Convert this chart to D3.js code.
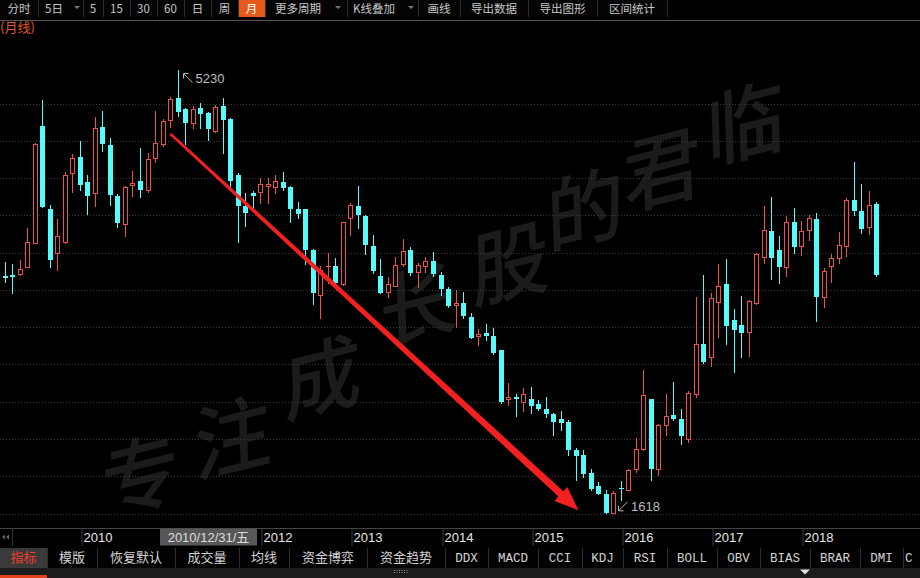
<!DOCTYPE html>
<html><head><meta charset="utf-8">
<script src="https://cdn.jsdelivr.net/npm/d3@7"></script>
<style>
html,body{margin:0;padding:0;background:#000;overflow:hidden}
svg{display:block}
</style></head><body>
<svg id="c" width="920" height="578"></svg>
<script>
// ---------------- DATA (monthly candles, first month 2009-03) ----------------
const firstMonth = "2009-03";
const opens = [3551,3559,3564,3626,3822,4773,4097,3736,3830,4388,
 4518,4317,4230,4768,4619,4205,3972,4292,4325,4252,
 4515,4627,4822,5004,4912,4795,4923,4882,4733,4937,
 4833,4374,4124,4225,4233,4287,4279,4314,4279,4097,
 4097,3762,3396,3621,3632,3483,4021,4121,4040,3795,
 3551,3423,3471,3648,3762,3581,3634,3673,3559,3445,
 3314,3328,3219,3061,3088,3061,2947,2548,2566,2526,
 2548,2507,2466,2425,2385,2363,2132,2097,1947,1838,
 1779,1624,1828,1811,1975,2138,2548,1975,2336,2417,
 2385,2227,2594,2996,2888,3341,3485,3197,3151,3096,
 3333,3703,3917,3762,3626,3993,3798,3926,4015,3382,
 3634,3695,3798,4170,4080,3948,4138];
const highs = [3665,3648,3681,3942,4635,4985,4129,4013,4401,4543,
 4651,4374,4844,4896,4673,4219,4284,4407,4592,4551,
 4898,4828,5007,5230,4923,4937,4963,4890,4945,5004,
 4841,4388,4225,4244,4347,4352,4374,4401,4284,4156,
 4100,3768,3632,3740,3695,3993,4143,4284,4048,3885,
 3687,3545,3708,3850,3789,3654,3703,3744,3586,3463,
 3436,3423,3246,3116,3159,3129,2950,2676,2586,2635,
 2648,2540,2566,2436,2450,2382,2154,2132,1975,1869,
 1811,1800,1879,1983,2235,2784,2550,2344,2594,2684,
 2464,2615,3379,3559,3414,3648,3687,3279,3387,3355,
 3736,4121,4192,3877,4040,4102,4001,4048,4067,3613,
 3727,3912,4189,4482,4301,4244,4151];
const lows = [3502,3412,3559,3624,3819,4111,3621,3599,3822,4238,
 4252,4056,4121,4572,4129,3952,3877,4203,4192,4238,
 4482,4610,4768,4855,4624,4755,4760,4659,4722,4556,
 4279,3830,3961,4102,4143,4143,4225,4252,3993,4021,
 3648,3322,3206,3496,3485,3477,3885,3944,3730,3573,
 3409,3377,3469,3632,3559,3463,3586,3551,3396,3295,
 3137,3206,3043,2988,3029,2920,2518,2499,2409,2450,
 2436,2458,2403,2254,2295,2097,1887,1914,1811,1773,
 1620,1618,1730,1806,1955,2132,1887,1928,2254,2382,
 2181,2200,2564,2839,2817,3051,2996,2770,2888,2898,
 3322,3659,3524,3496,3551,3736,3722,3844,3186,3300,
 3504,3654,3714,4048,3904,3893,3551];
const closes = [3534,3542,3605,3825,4624,4116,3681,3877,4374,4510,
 4292,4205,4755,4627,4211,3980,4279,4311,4252,4504,
 4632,4814,4994,4890,4795,4912,4869,4749,4928,4822,
 4328,4124,4067,4205,4301,4301,4325,4266,4097,4056,
 3762,3409,3599,3632,3496,3988,4129,4048,3803,3591,
 3414,3483,3640,3754,3577,3640,3673,3567,3442,3306,
 3333,3224,3047,3078,3064,2928,2526,2566,2548,2594,
 2493,2464,2425,2363,2354,2132,2085,1942,1820,1779,
 1623,1784,1814,1969,2138,2580,1975,2336,2409,2385,
 2248,2599,2996,2852,3369,3469,3145,3110,3088,3347,
 3730,3926,3695,3626,3988,3789,3917,4026,3382,3594,
 3700,3803,4170,4080,3934,4129,3559];
const cursorLabel = "2010/12/31/五";
const cursorIndex = 21;
// trend arrow: [candle index, price]
const arrowFrom = [22, 4708];
const arrowTo = [76.3, 1643];
const topItems = ["分时","5日","5","15","30","60","日","周","月","更多周期","K线叠加","画线","导出数据","导出图形","区间统计"];
const tabItems = ["指标","模版","恢复默认","成交量","均线","资金博弈","资金趋势","DDX","MACD","CCI","KDJ","RSI","BOLL","OBV","BIAS","BRAR","DMI","C"];
const watermark = ["专","注","成","长","股","的","君","临"];

// ---------------- LAYOUT ----------------
const W = 920, H = 578;
const RED = "#ea5349", CYAN = "#54fcfc";
const svg = d3.select("#c");
svg.append("rect").attr("width", W).attr("height", H).attr("fill", "#000");

const N = opens.length;
const months = d3.range(N).map(i => d3.timeMonth.offset(d3.timeParse("%Y-%m")(firstMonth), i));
const x = d3.scaleBand().domain(d3.range(N)).range([1.5, 880.5]);
const cx = i => x.range()[0] + x.step() * i + x.bandwidth() / 2;
const y = d3.scaleLinear().domain([d3.min(lows), d3.max(highs)]).range([513.3, 70]);

// ---------- top toolbar ----------
const topCells = [[0,38],[38,83],[83,103],[103,130],[130,157],[157,184],[184,211],[211,238],[238,265],[265,347],[347,418],[418,460],[460,528],[528,597],[597,667]];
const dropIdx = {1:[7,6],9:[10,9],10:[6,7]};
const tb = svg.append("g");
tb.append("rect").attr("x",0).attr("y",0).attr("width",667).attr("height",17).attr("fill","#050505");
topItems.forEach((t, i) => {
  const [a, b] = topCells[i];
  if (t === "月") tb.append("rect").attr("x", a+1).attr("y", 0).attr("width", b-a-1).attr("height", 17).attr("fill", "#e85a1c");
  const tx = tb.append("text").attr("y", 13.4).attr("fill", t === "月" ? "#fff" : "#c8c8c8")
    .attr("font-family", "'Noto Sans CJK SC','Liberation Sans',sans-serif").attr("font-size", 11.5).text(t);
  if (dropIdx[i]) {
    tx.attr("x", a + dropIdx[i][0]);
    const ax = b - dropIdx[i][1];
    tb.append("path").attr("d", `M${ax-3},6 L${ax+3},6 L${ax},9 Z`).attr("fill", "#777");
  } else tx.attr("x", (a + b) / 2).attr("text-anchor", "middle");
  tb.append("rect").attr("x", b).attr("y", 0).attr("width", 1).attr("height", 17).attr("fill", "#2c2c2c");
});
svg.append("rect").attr("x",0).attr("y",20).attr("width",W).attr("height",1).attr("fill","#555");
svg.append("text").attr("x",0).attr("y",32).attr("fill","#e2592a").attr("font-size",13)
  .attr("font-family","'Noto Sans CJK SC',sans-serif").text("(月线)");

// ---------- watermark ----------
const wmPos = [[140,470],[232,432],[322,372],[418,300],[510,258],[585,204],[662,164],[745,118]];
const wm = svg.append("g");
watermark.forEach((ch, i) => {
  wm.append("text").attr("transform", `translate(${wmPos[i][0]},${wmPos[i][1]}) rotate(-14) skewX(-12)`)
    .attr("text-anchor","middle").attr("dominant-baseline","central")
    .attr("font-family","'Noto Sans CJK SC',sans-serif").attr("font-weight",500).attr("font-size",80)
    .attr("fill","#1b1b1b").text(ch);
});

// ---------- gridlines ----------
const plotTop = 66.3, plotBottom = 513.5, divs = 12;
const grid = svg.append("g");
d3.range(divs).forEach(k => {
  const gy = Math.round(plotBottom - k * (plotBottom - plotTop) / divs) + 0.5;
  grid.append("line").attr("x1",0).attr("x2",W).attr("y1",gy).attr("y2",gy)
    .attr("stroke","#3a3a3a").attr("stroke-dasharray","1,2");
});

// ---------- candles ----------
const cg = svg.append("g");
d3.range(N).forEach(i => {
  const c = Math.floor(cx(i));
  const up = closes[i] > opens[i];
  const col = up ? RED : CYAN;
  const yH = Math.round(y(highs[i])), yL = Math.round(y(lows[i]));
  const top = Math.round(y(Math.max(opens[i], closes[i])));
  const bot = Math.round(y(Math.min(opens[i], closes[i])));
  if (up) {
    if (top > yH) cg.append("rect").attr("x", c).attr("y", yH).attr("width", 1).attr("height", top - yH).attr("fill", col);
    if (yL > bot) cg.append("rect").attr("x", c).attr("y", bot).attr("width", 1).attr("height", yL - bot + 1).attr("fill", col);
    if (bot - top >= 2) {
      cg.append("rect").attr("x", c - 1.5).attr("y", top + 0.5).attr("width", 4).attr("height", bot - top)
        .attr("fill", "#000").attr("stroke", col).attr("stroke-width", 1);
    } else {
      cg.append("rect").attr("x", c - 2).attr("y", top).attr("width", 5).attr("height", Math.max(bot - top, 1)).attr("fill", col);
    }
  } else {
    cg.append("rect").attr("x", c).attr("y", yH).attr("width", 1).attr("height", yL - yH + 1).attr("fill", col);
    cg.append("rect").attr("x", c - 2).attr("y", top).attr("width", 5).attr("height", Math.max(bot - top, 1)).attr("fill", col);
  }
});

// ---------- high / low labels ----------
const maxI = highs.indexOf(d3.max(highs)), minI = lows.indexOf(d3.min(lows));
const ann = svg.append("g").attr("stroke", "#b4b4b4").attr("stroke-width", 1).attr("fill", "none");
{
  const hx = Math.floor(cx(maxI)) + 5.5, hy = y(highs[maxI]) + 3.5;
  ann.append("path").attr("d", `M${hx+9},${hy+9} L${hx},${hy} M${hx},${hy} L${hx},${hy+5} M${hx},${hy} L${hx+5},${hy}`);
  svg.append("text").attr("x", hx + 12).attr("y", y(highs[maxI]) + 13).attr("fill", "#bdbdbd")
    .attr("font-family", "'Liberation Sans',Arial,sans-serif").attr("font-size", 13).text(String(highs[maxI]));
  const lx = Math.floor(cx(minI)) + 5.5, ly = y(lows[minI]) - 2.5;
  ann.append("path").attr("d", `M${lx+9},${ly-9} L${lx},${ly} M${lx},${ly} L${lx},${ly-5} M${lx},${ly} L${lx+5},${ly}`);
  svg.append("text").attr("x", lx + 12.5).attr("y", y(lows[minI]) - 2).attr("fill", "#bdbdbd")
    .attr("font-family", "'Liberation Sans',Arial,sans-serif").attr("font-size", 13).text(String(lows[minI]));
}

// ---------- red trend arrow ----------
{
  const x0 = cx(arrowFrom[0]), y0 = y(arrowFrom[1]);
  const x1 = cx(arrowTo[0]), y1 = y(arrowTo[1]);
  const dx = x1 - x0, dy = y1 - y0, L = Math.hypot(dx, dy);
  const ux = dx / L, uy = dy / L, nx = -uy, ny = ux;
  const headLen = 24, headW = 9.5, w0 = 1.3, w1 = 3.6;
  const bx = x1 - ux * headLen, by = y1 - uy * headLen;
  const pts = [
    [x0 + nx * w0, y0 + ny * w0],
    [bx + nx * w1, by + ny * w1],
    [bx + nx * headW, by + ny * headW],
    [x1, y1],
    [bx - nx * headW, by - ny * headW],
    [bx - nx * w1, by - ny * w1],
    [x0 - nx * w0, y0 - ny * w0]
  ];
  svg.append("path").attr("d", d3.line()(pts) + "Z").attr("fill", "#f42020");
}

// ---------- bottom time axis ----------
const axY0 = 528, axY1 = 546;
svg.append("rect").attr("x",0).attr("y",axY0).attr("width",W).attr("height",1).attr("fill","#444");
svg.append("rect").attr("x",12).attr("y",axY0).attr("width",1).attr("height",axY1-axY0).attr("fill","#333");
svg.append("path").attr("d","M2,537 L5,534.5 L5,539.5 Z M6,537 L9,534.5 L9,539.5 Z").attr("fill","#666");
const curX0 = Math.floor(cx(cursorIndex)) - 3, curW = 97;
const axg = svg.append("g");
months.forEach((m, i) => {
  if (m.getMonth() !== 0) return;
  const px = Math.floor(cx(i)) + 1.5;
  if (px > curX0 - 30 && px < curX0 + curW) return; // hidden under the cursor date box
  axg.append("rect").attr("x", px).attr("y", axY0 + 1).attr("width", 1).attr("height", axY1 - axY0 - 1).attr("fill", "#3a3a3a");
  axg.append("text").attr("x", px + 2).attr("y", 541.5).attr("fill", "#e6e6e6")
    .attr("font-family", "'Liberation Sans',Arial,sans-serif").attr("font-size", 13).text(d3.timeFormat("%Y")(m));
});
svg.append("rect").attr("x", curX0).attr("y", axY0 + 0.5).attr("width", curW).attr("height", 17).attr("fill", "#575757");
svg.append("text").attr("x", curX0 + curW / 2).attr("y", 541.5).attr("text-anchor","middle").attr("fill", "#dcdcdc")
  .attr("font-family", "'Liberation Sans','Noto Sans CJK SC',sans-serif").attr("font-size", 13).text(cursorLabel);

// ---------- bottom tab bar ----------
const tabCells = [[0,47],[47,97],[97,175],[175,239],[239,289],[289,367],[367,445],[445,488],[488,538],[538,582],[582,623],[623,667],[667,717],[717,760],[760,810],[810,860],[860,903],[903,920]];
const tabs = svg.append("g");
tabs.append("rect").attr("x",0).attr("y",547).attr("width",W).attr("height",21).attr("fill","#020202");
tabItems.forEach((t, i) => {
  const [a, b] = tabCells[i];
  const last = i === tabItems.length - 1;
  if (i === 0) tabs.append("rect").attr("x", a).attr("y", 548).attr("width", b - a).attr("height", 20).attr("fill", "#3a3a3a");
  const latin = /^[A-Z]+$/.test(t);
  tabs.append("text").attr("x", last ? a + 2 : (a + b) / 2).attr("y", 562).attr("text-anchor", last ? "start" : "middle")
    .attr("fill", i === 0 ? "#f03c2c" : "#d2d2d2")
    .attr("font-family", latin ? "'Liberation Mono',monospace" : "'Noto Sans CJK SC',sans-serif")
    .attr("font-size", latin ? 12.5 : 13).text(t);
  if (!last) tabs.append("rect").attr("x", b).attr("y", 548).attr("width", 1).attr("height", 20).attr("fill", "#2e2e2e");
});
svg.append("rect").attr("x",0).attr("y",568).attr("width",W).attr("height",10).attr("fill","#1c1c1c");
svg.append("rect").attr("x",0).attr("y",575).attr("width",47).attr("height",3).attr("fill","#e4421a");
d3.range(6).forEach(k => {
  svg.append("rect").attr("x",394 + k*2.5).attr("y",570).attr("width",1).attr("height",1).attr("fill","#888");
  svg.append("rect").attr("x",394 + k*2.5).attr("y",572).attr("width",1).attr("height",1).attr("fill","#888");
});
svg.append("path").attr("d","M800,569.5 L810,569.5 L805,574.5 Z").attr("fill","#e0e0e0");
</script>
</body></html>
